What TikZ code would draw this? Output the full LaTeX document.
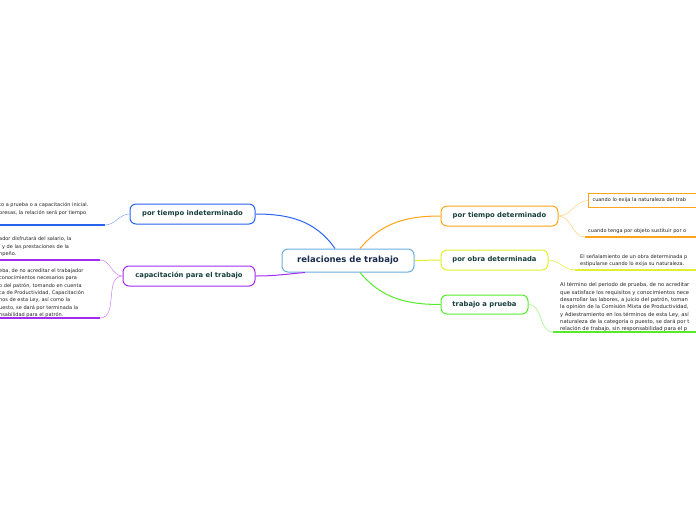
\documentclass[tikz,border=0pt]{standalone}
\usepackage{fontspec}
\setmainfont{DejaVu Sans}
\usetikzlibrary{positioning,calc}
\definecolor{cenc}{HTML}{6AAEE0}
\definecolor{bluc}{HTML}{2A62F2}
\definecolor{purc}{HTML}{A32BEF}
\definecolor{oranc}{HTML}{FFA31A}
\definecolor{yelc}{HTML}{E0F02A}
\definecolor{grnc}{HTML}{55EA2A}
\definecolor{txtc}{HTML}{163F3A}
\definecolor{navc}{HTML}{1B2B4D}
\definecolor{leafc}{HTML}{222222}

\begin{document}
\begin{tikzpicture}[x=1pt,y=-1pt,
    topic/.style={draw,rounded corners=6pt,line width=1pt,fill=white,minimum height=20pt,inner xsep=0pt,
      font=\fontsize{6.8}{8}\selectfont\bfseries,text=txtc},
    leaf/.style={align=left,inner sep=0pt,font=\fontsize{5}{7.3}\selectfont,text=leafc},
    branch/.style={line width=1pt},
    twig/.style={line width=0.5pt},
    rule/.style={line width=1.2pt}]
  \useasboundingbox (0,0) rectangle (696,520);
  \clip (0,0) rectangle (696,520);
  % central topic and main topics
  \node[topic,draw=cenc,minimum width=132pt,minimum height=23pt,font=\fontsize{8.5}{10}\selectfont\bfseries,text=navc] (cen) at (348,260.5) {relaciones de trabajo};
  \node[topic,draw=bluc,minimum width=125pt] (indet) at (192.5,214) {por tiempo indeterminado};
  \node[topic,draw=purc,minimum width=132pt] (capac) at (189,276) {capacitación para el trabajo};
  \node[topic,draw=oranc,minimum width=117pt] (tdet) at (499.5,216) {por tiempo determinado};
  \node[topic,draw=yelc,minimum width=107pt] (obra) at (494.5,260) {por obra determinada};
  \node[topic,draw=grnc,minimum width=87pt,minimum height=19pt] (prueba) at (484.5,304.5) {trabajo a prueba};
  \draw[branch,bluc] ([xshift=-13pt]cen.north) to[out=125,in=0] (indet.east);
  \draw[branch,purc] ([xshift=-43pt]cen.south) to[out=185,in=0] (capac.east);
  \draw[branch,oranc] ([xshift=12pt]cen.north) to[out=50,in=180] (tdet.west);
  \draw[branch,yelc] (cen.east) -- (obra.west);
  \draw[branch,grnc] ([xshift=12pt]cen.south) to[out=-50,in=180] (prueba.west);
  % left leaves
  \node[leaf,anchor=north west] (indl) at (-1,202.5) {to a prueba o a capacitación inicial.\\presas, la relación será por tiempo};
  \coordinate (indua) at (105,225); \coordinate (indub) at (-2,225);
  \draw[twig,bluc!55] (indet.west) to[out=180,in=0] (indua);
  \draw[rule,bluc] (indua) -- (indub);
  \node[leaf,anchor=north west] (cap1) at (-1,236.5) {ador disfrutará del salario, la\\l y de las prestaciones de la\\npeño.};
  \coordinate (cap1a) at (100,260); \coordinate (cap1b) at (-2,260);
  \draw[twig,purc!60] (capac.west) to[out=180,in=0] (cap1a);
  \draw[rule,purc] (cap1a) -- (cap1b);
  \node[leaf,anchor=north west] (cap2) at (-1,268.5) {eba, de no acreditar el trabajador\\conocimientos necesarios para\\o del patrón, tomando en cuenta\\ca de Productividad, Capacitación\\nos de esta Ley, así como la\\uesto, se dará por terminada la\\nsabilidad para el patrón.};
  \coordinate (cap2a) at (100,318); \coordinate (cap2b) at (-2,318);
  \draw[twig,purc!60] (capac.west) to[out=180,in=0] (cap2a);
  \draw[rule,purc] (cap2a) -- (cap2b);
  % right leaves
  \node[leaf,draw=oranc,line width=1pt,fill=white,anchor=north west,inner xsep=4pt,minimum height=14pt,text width=140pt] (td1) at (588,193) {cuando lo exija la naturaleza del trab};
  \draw[twig,oranc!55] (tdet.east) to[out=0,in=180] (td1.west);
  \node[leaf,anchor=north west] (td2) at (588,228.5) {cuando tenga por objeto sustituir por o};
  \coordinate (td2a) at (585,237); \coordinate (td2b) at (700,237);
  \draw[twig,oranc!55] (tdet.east) to[out=0,in=180] (td2a);
  \draw[rule,oranc] (td2a) -- (td2b);
  \node[leaf,anchor=north west] (obl) at (580,254.5) {El señalamiento de un obra determinada p\\estipularse cuando lo exija su naturaleza.};
  \coordinate (obla) at (575,270); \coordinate (oblb) at (700,270);
  \draw[twig,yelc] (obra.east) to[out=0,in=180] (obla);
  \draw[rule,yelc] (obla) -- (oblb);
  \node[leaf,anchor=north west,font=\fontsize{5.2}{7.3}\selectfont] (prl) at (560,282.5) {Al término del periodo de prueba, de no acreditar\\que satisface los requisitos y conocimientos nece\\desarrollar las labores, a juicio del patrón, toman\\la opinión de la Comisión Mixta de Productividad,\\y Adiestramiento en los términos de esta Ley, así\\naturaleza de la categoría o puesto, se dará por t\\relación de trabajo, sin responsabilidad para el p};
  \coordinate (prla) at (553,332); \coordinate (prlb) at (700,332);
  \draw[twig,grnc!60] (prueba.east) to[out=0,in=180] (prla);
  \draw[rule,grnc] (prla) -- (prlb);
\end{tikzpicture}
\end{document}
